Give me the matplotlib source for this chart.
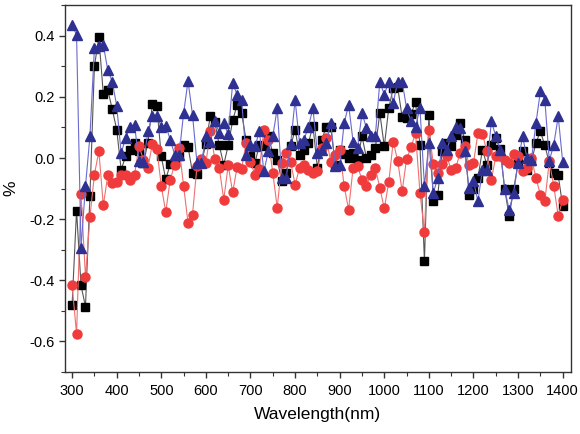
import numpy as np
import matplotlib
matplotlib.use("Agg")
import matplotlib.pyplot as plt
from matplotlib.ticker import MultipleLocator

plt.rcParams["font.family"] = ["Liberation Sans", "DejaVu Sans"]

wavelength = np.arange(300, 1401, 10)

black = [
    -0.48, -0.172, -0.417, -0.486, -0.123, 0.30, 0.395, 0.209, 0.223, 0.16,
    0.093, -0.038, 0.005, 0.027, 0.049, 0.022, -0.016, 0.049, 0.177, 0.169,
    0.005, -0.07, -0.02, -0.013, 0.005, 0.042, 0.037, -0.049, -0.052, -0.016,
    0.046, 0.139, 0.118, 0.041, -0.022, 0.041, 0.123, 0.174, 0.147, 0.06,
    0.005, -0.016, 0.044, 0.038, 0.071, 0.016, -0.005, -0.076, -0.049, 0.038,
    0.093, 0.011, 0.027, 0.049, 0.106, -0.033, 0.06, 0.103, 0.10, -0.022,
    0.027, 0.013, 0.0, 0.016, -0.005, 0.071, 0.0, 0.011, 0.033, 0.147,
    0.038, 0.163, 0.229, 0.232, 0.134, 0.131, 0.145, 0.182, 0.041, -0.337,
    0.141, -0.141, -0.12, 0.022, 0.049, 0.038, 0.076, 0.116, 0.06, -0.12,
    -0.103, -0.065, 0.027, -0.022, 0.041, 0.065, 0.029, -0.103, -0.19, -0.103,
    -0.016, 0.022, -0.038, -0.011, 0.049, 0.087, 0.041, -0.016, -0.049, -0.057,
    -0.158,
]

red = [
    -0.416, -0.575, -0.118, -0.39, -0.193, -0.054, 0.022, -0.155, -0.057, -0.082,
    -0.078, -0.054, -0.054, -0.071, -0.054, 0.038, -0.005, -0.033, 0.047, 0.03,
    -0.092, -0.177, -0.071, -0.022, 0.033, -0.092, -0.212, -0.185, -0.027, -0.003,
    -0.016, 0.087, -0.003, -0.033, -0.136, -0.024, -0.112, -0.03, -0.035, 0.049,
    -0.014, -0.054, -0.036, 0.093, 0.06, -0.049, -0.163, -0.016, 0.018, -0.013,
    -0.087, -0.033, -0.024, -0.038, -0.049, -0.044, 0.033, 0.065, -0.014, 0.011,
    0.027, -0.092, -0.169, -0.033, -0.027, -0.071, -0.092, -0.054, -0.033, -0.098,
    -0.165, -0.079, 0.054, -0.009, -0.109, -0.003, 0.035, 0.082, -0.114, -0.242,
    0.093, -0.02, -0.049, -0.02, 0.005, -0.038, -0.033, 0.016, 0.04, -0.022,
    -0.016, 0.082, 0.079, 0.022, -0.071, 0.005, 0.005, -0.005, -0.016, 0.013,
    0.005, -0.044, -0.033, 0.0, -0.065, -0.12, -0.141, -0.011, -0.092, -0.19,
    -0.136,
]

blue = [
    0.435, 0.403, -0.294, -0.092, 0.071, 0.359, 0.365, 0.37, 0.288, 0.25,
    0.171, 0.016, 0.065, 0.103, 0.109, -0.011, -0.014, 0.087, 0.136, 0.136,
    0.103, 0.106, 0.06, 0.011, 0.011, 0.147, 0.252, 0.141, -0.016, -0.016,
    0.071, 0.054, 0.12, 0.082, 0.114, 0.078, 0.245, 0.207, 0.19, 0.011,
    0.044, 0.038, 0.087, -0.044, 0.022, 0.071, 0.163, -0.065, -0.065, 0.046,
    0.19, 0.049, 0.06, 0.103, 0.163, 0.016, 0.027, 0.049, 0.116, -0.027,
    -0.024, 0.114, 0.174, 0.054, 0.033, 0.147, 0.098, 0.071, 0.073, 0.25,
    0.207, 0.25, 0.18, 0.25, 0.25, 0.163, 0.12, 0.103, 0.163, -0.092,
    0.049, -0.114, -0.065, 0.049, 0.027, 0.071, 0.103, 0.098, 0.022, -0.098,
    -0.076, -0.141, -0.038, -0.038, 0.12, 0.071, 0.027, -0.103, -0.169, -0.114,
    -0.016, 0.071, 0.0, -0.005, 0.114, 0.218, 0.19, -0.009, 0.044, 0.136,
    -0.013,
]

fig = plt.figure(figsize=(5.8, 4.34), dpi=100)
ax = fig.add_axes([0.112, 0.143, 0.872, 0.845])

ax.plot(wavelength, black, color="#555555", lw=0.8, marker="s", ms=5.5,
        mfc="black", mec="black")
ax.plot(wavelength, red, color="#f07070", lw=0.8, marker="o", ms=6.5,
        mfc="#ef3b3b", mec="#ef3b3b")
ax.plot(wavelength, blue, color="#6a6ad0", lw=0.8, marker="^", ms=7,
        mfc="#2e3192", mec="#2e3192")

ax.set_xlim(284, 1418)
ax.set_ylim(-0.7, 0.5)
ax.xaxis.set_major_locator(MultipleLocator(100))
ax.xaxis.set_minor_locator(MultipleLocator(50))
ax.yaxis.set_major_locator(MultipleLocator(0.2))
ax.yaxis.set_minor_locator(MultipleLocator(0.1))
ax.set_yticks([-0.6, -0.4, -0.2, 0.0, 0.2, 0.4])
ax.set_yticklabels(["-0.6", "-0.4", "-0.2", "0.0", "0.2", "0.4"])
ax.tick_params(which="major", direction="out", length=4, width=1,
               labelsize=10.5, color="#333333")
ax.tick_params(axis="x", which="major", pad=5)
ax.tick_params(which="minor", direction="out", length=3, width=0.8,
               color="#333333")
for s in ax.spines.values():
    s.set_linewidth(1.0)
    s.set_color("#333333")

ax.set_xlabel("Wavelength(nm)", fontsize=12.5, labelpad=6)
ax.set_ylabel("%", fontsize=12.5, labelpad=8)

fig.savefig("out.png", dpi=100)
